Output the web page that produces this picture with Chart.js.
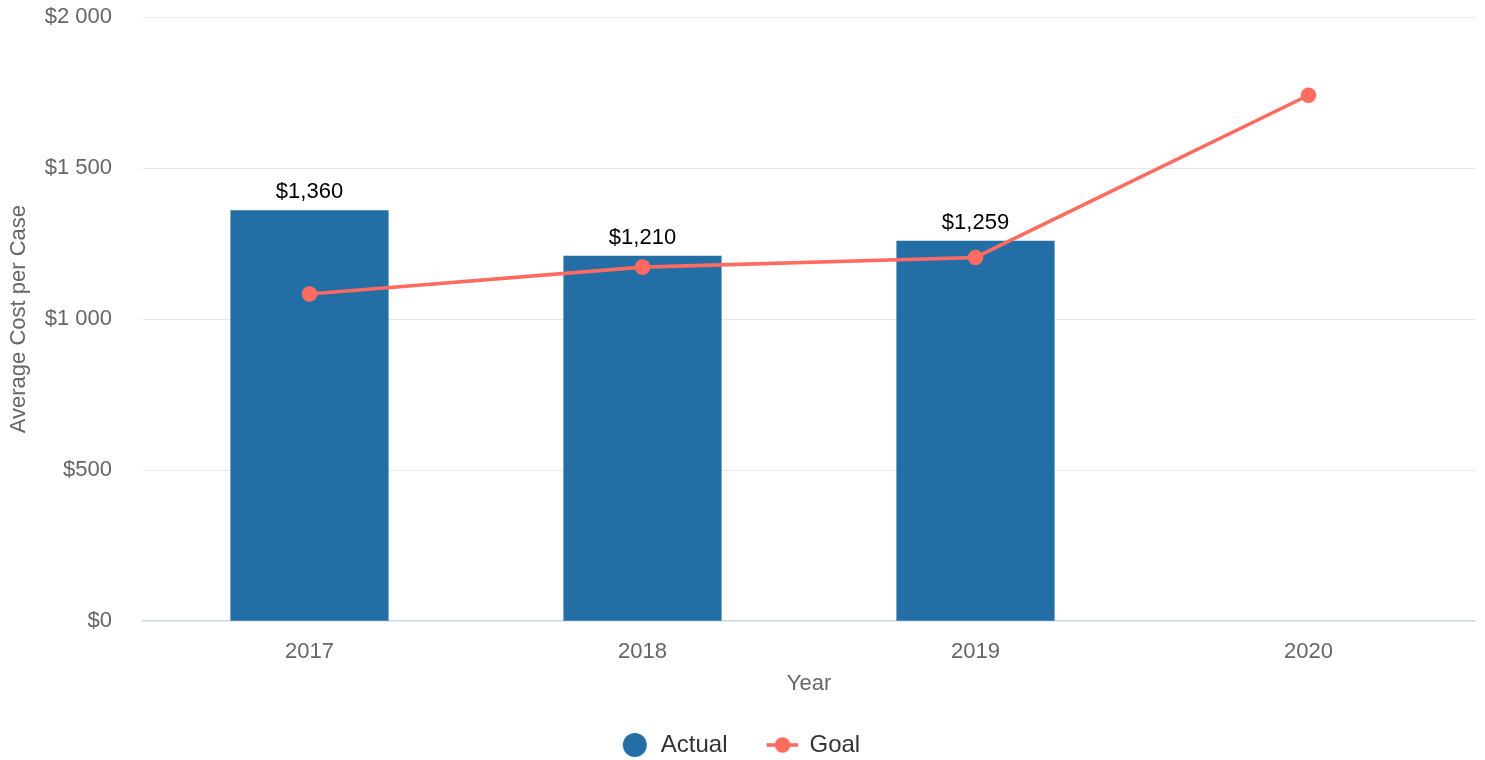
<!DOCTYPE html>
<html>
<head>
<meta charset="utf-8">
<script src="https://cdn.jsdelivr.net/npm/chart.js@4.4.1/dist/chart.umd.min.js"></script>
<style>
  html, body { margin: 0; padding: 0; background: #ffffff; }
  #wrap { width: 1485px; height: 760px; }
</style>
</head>
<body>
<div id="wrap"><canvas id="c" width="1485" height="760"></canvas></div>
<script>
// ---- data ----
const categories = ['2017', '2018', '2019', '2020'];
const actualValues = [1360, 1210, 1259, null];
const goalValues = [1083, 1172, 1204, 1741];
const yTickLabels = ['$0', '$500', '$1 000', '$1 500', '$2 000'];
const seriesNames = ['Actual', 'Goal'];
const xAxisTitle = 'Year';
const yAxisTitle = 'Average Cost per Case';

const FONT = '"Liberation Sans", Arial, Helvetica, sans-serif';
const BAR_COLOR = '#236EA5';
const LINE_COLOR = '#FF6B61';

// legend symbols
function makeActualIcon() {
  const c = document.createElement('canvas');
  c.width = 34; c.height = 26;
  const g = c.getContext('2d');
  g.fillStyle = BAR_COLOR;
  g.beginPath(); g.arc(20, 13, 12, 0, Math.PI * 2); g.fill();
  return c;
}
function makeGoalIcon() {
  const c = document.createElement('canvas');
  c.width = 34; c.height = 26;
  const g = c.getContext('2d');
  g.strokeStyle = LINE_COLOR; g.lineWidth = 3.6;
  g.beginPath(); g.moveTo(3, 13); g.lineTo(34, 13); g.stroke();
  g.fillStyle = LINE_COLOR;
  g.beginPath(); g.arc(19, 13, 7.8, 0, Math.PI * 2); g.fill();
  return c;
}
const legendIcons = [makeActualIcon(), makeGoalIcon()];

const dataLabelPlugin = {
  id: 'barValueLabels',
  afterDatasetsDraw(chart) {
    const ctx = chart.ctx;
    const meta = chart.getDatasetMeta(0);
    ctx.save();
    ctx.font = '22px ' + FONT;
    ctx.fillStyle = '#000000';
    ctx.textAlign = 'center';
    ctx.textBaseline = 'alphabetic';
    meta.data.forEach((bar, i) => {
      const v = actualValues[i];
      if (v === null || v === undefined) return;
      ctx.fillText('$' + v.toLocaleString('en-US'), bar.x, bar.y - 12);
    });
    ctx.restore();
  }
};

new Chart(document.getElementById('c'), {
  data: {
    labels: categories,
    datasets: [
      {
        type: 'bar',
        label: seriesNames[0],
        data: actualValues,
        backgroundColor: BAR_COLOR,
        borderWidth: 0,
        barPercentage: 0.475,
        categoryPercentage: 1.0,
        order: 1
      },
      {
        type: 'line',
        label: seriesNames[1],
        data: goalValues,
        borderColor: LINE_COLOR,
        backgroundColor: LINE_COLOR,
        borderWidth: 3.6,
        pointRadius: 7.8,
        pointHoverRadius: 7.8,
        pointBorderWidth: 0,
        pointBackgroundColor: LINE_COLOR,
        tension: 0,
        fill: false,
        order: 0
      }
    ]
  },
  options: {
    responsive: false,
    animation: false,
    events: [],
    layout: { padding: { top: 17, right: 10, bottom: 0, left: 0 } },
    scales: {
      x: {
        type: 'category',
        offset: true,
        grid: { display: false, drawTicks: true, tickLength: 18, tickColor: 'rgba(0,0,0,0)' },
        border: { display: true, color: '#CCD6EB', width: 1.5 },
        ticks: { color: '#666666', font: { family: FONT, size: 22 }, padding: 0, maxRotation: 0 },
        title: { display: true, text: xAxisTitle, color: '#666666', font: { family: FONT, size: 22 }, padding: { top: 5, bottom: 0 } }
      },
      y: {
        min: 0,
        max: 2000,
        afterBuildTicks(scale) {
          scale.ticks = [0, 500, 1000, 1500, 2000].map(v => ({ value: v }));
        },
        afterFit(scale) { scale.width = 143; },
        grid: {
          drawTicks: true,
          tickLength: 31,
          tickColor: 'rgba(0,0,0,0)',
          lineWidth: 1,
          color: (ctx) => (ctx.tick && ctx.tick.value === 0) ? 'rgba(0,0,0,0)' : '#E6E6E6'
        },
        border: { display: false },
        ticks: {
          color: '#666666',
          font: { family: FONT, size: 22 },
          padding: 0,
          callback: (value, index) => yTickLabels[index]
        },
        title: { display: true, text: yAxisTitle, color: '#666666', font: { family: FONT, size: 22 }, padding: { top: 6, bottom: 0 } }
      }
    },
    plugins: {
      tooltip: { enabled: false },
      legend: {
        position: 'bottom',
        maxHeight: 63,
        labels: {
          color: '#333333',
          font: { family: FONT, size: 24 },
          usePointStyle: true,
          pointStyleWidth: 34,
          boxWidth: 34,
          padding: 36,
          sort: (a, b) => a.datasetIndex - b.datasetIndex,
          generateLabels(chart) {
            const items = Chart.defaults.plugins.legend.labels.generateLabels(chart);
            items.forEach(it => { it.pointStyle = legendIcons[it.datasetIndex]; it.lineWidth = 0; });
            return items;
          }
        }
      }
    }
  },
  plugins: [dataLabelPlugin]
});
</script>
</body>
</html>
